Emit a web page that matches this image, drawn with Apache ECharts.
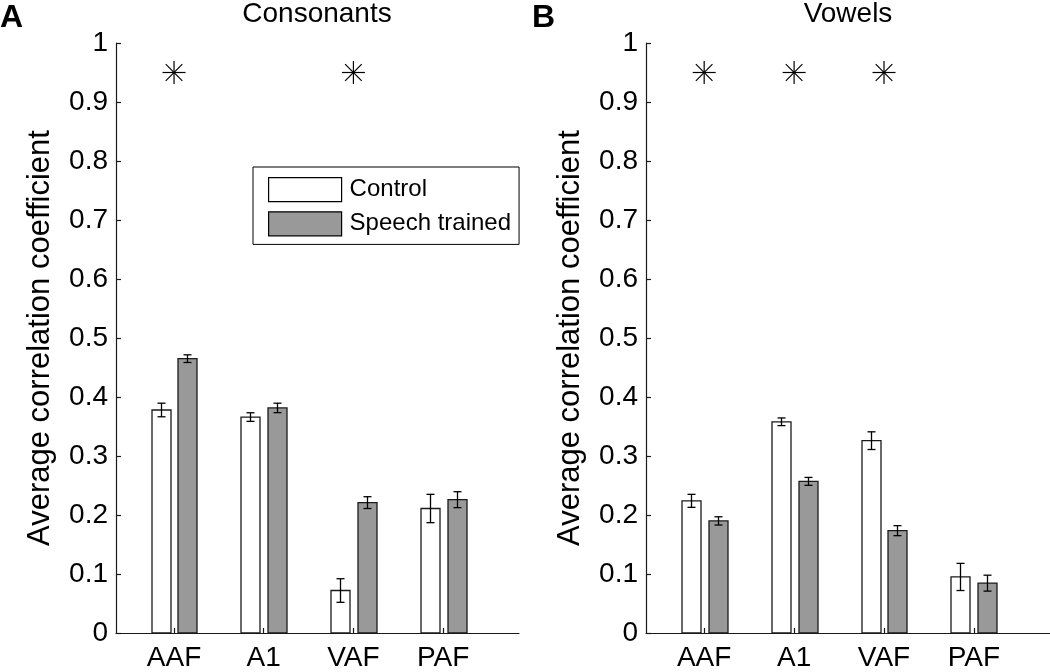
<!DOCTYPE html>
<html>
<head>
<meta charset="utf-8">
<script src="https://cdn.jsdelivr.net/npm/echarts@6/dist/echarts.min.js"></script>
<style>
  html, body { margin: 0; padding: 0; background: #fff; }
  #chart { width: 1050px; height: 672px; }
</style>
</head>
<body>
<div id="chart"></div>
<script>
// ---------- data ----------
const categories = ['AAF', 'A1', 'VAF', 'PAF'];
const yTicks = [0, 0.1, 0.2, 0.3, 0.4, 0.5, 0.6, 0.7, 0.8, 0.9, 1];

const consControl     = [0.378, 0.366, 0.072, 0.211];
const consControlErr  = [0.0115, 0.0073, 0.020, 0.024];
const consSpeech      = [0.465, 0.3815, 0.221, 0.226];
const consSpeechErr   = [0.0065, 0.008, 0.010, 0.0135];
const consSignificant = ['AAF', 'VAF'];

const vowControl      = [0.224, 0.358, 0.326, 0.095];
const vowControlErr   = [0.011, 0.0065, 0.015, 0.023];
const vowSpeech       = [0.190, 0.257, 0.1735, 0.0845];
const vowSpeechErr    = [0.007, 0.0067, 0.0085, 0.0135];
const vowSignificant  = ['AAF', 'A1', 'VAF'];

const sigLevel = 0.95;

// ---------- styling ----------
const FONT = 'Liberation Sans, Arial, Helvetica, sans-serif';
const AXIS_COLOR = '#1a1a1a';
const CONTROL_FILL = '#ffffff';
const SPEECH_FILL = '#999999';
const BAR_W = 19, CAP_W = 8, OFFSET = 0.15;

const chart = echarts.init(document.getElementById('chart'), null, { renderer: 'canvas' });

function barSeries(name, vals, errs, off, fill, gi) {
  return {
    type: 'custom',
    name: name,
    xAxisIndex: gi,
    yAxisIndex: gi,
    itemStyle: { color: fill, borderColor: '#000', borderWidth: 1.2 },
    data: vals.map((v, i) => [i + 1, v, errs[i]]),
    encode: { x: 0, y: 1 },
    renderItem: function (params, api) {
      const x = api.value(0) + off, v = api.value(1), e = api.value(2);
      const top = api.coord([x, v]);
      const base = api.coord([x, 0]);
      const lo = api.coord([x, v - e]);
      const hi = api.coord([x, v + e]);
      const cx = Math.round(top[0]) + 0.5;
      const ln = { stroke: '#000', lineWidth: 1.3 };
      return {
        type: 'group',
        children: [
          { type: 'rect', shape: { x: cx - BAR_W / 2, y: top[1], width: BAR_W, height: base[1] - top[1] },
            style: { fill: fill, stroke: '#1a1a1a', lineWidth: 1.3 } },
          { type: 'line', shape: { x1: cx, y1: lo[1], x2: cx, y2: hi[1] }, style: ln },
          { type: 'line', shape: { x1: cx - CAP_W / 2, y1: lo[1], x2: cx + CAP_W / 2, y2: lo[1] }, style: ln },
          { type: 'line', shape: { x1: cx - CAP_W / 2, y1: hi[1], x2: cx + CAP_W / 2, y2: hi[1] }, style: ln }
        ]
      };
    }
  };
}

function starSeries(sig, gi) {
  return {
    type: 'custom',
    name: 'sig' + gi,
    xAxisIndex: gi,
    yAxisIndex: gi,
    silent: true,
    data: sig.map(c => [categories.indexOf(c) + 1, sigLevel]),
    encode: { x: 0, y: 1 },
    renderItem: function (params, api) {
      const p = api.coord([api.value(0), api.value(1)]);
      const r = 11.5, d = 8.3;
      const st = { stroke: '#000', lineWidth: 1.2 };
      return {
        type: 'group',
        children: [
          { type: 'line', shape: { x1: p[0] - r, y1: p[1], x2: p[0] + r, y2: p[1] }, style: st },
          { type: 'line', shape: { x1: p[0], y1: p[1] - r, x2: p[0], y2: p[1] + r }, style: st },
          { type: 'line', shape: { x1: p[0] - d, y1: p[1] - d, x2: p[0] + d, y2: p[1] + d }, style: st },
          { type: 'line', shape: { x1: p[0] - d, y1: p[1] + d, x2: p[0] + d, y2: p[1] - d }, style: st }
        ]
      };
    }
  };
}

function xAxisDef(gi) {
  return {
    type: 'value',
    gridIndex: gi,
    min: 0.353,
    max: 4.846,
    splitLine: { show: false },
    axisLine: { show: true, onZero: false, lineStyle: { color: AXIS_COLOR, width: 1.2 } },
    axisTick: { show: true, inside: true, length: 5, customValues: [1, 2, 3, 4],
                lineStyle: { color: AXIS_COLOR, width: 1.2 } },
    axisLabel: { show: true, customValues: [1, 2, 3, 4], margin: 11,
                 formatter: v => categories[Math.round(v) - 1],
                 fontFamily: FONT, fontSize: 28, color: '#000' }
  };
}

function yAxisDef(gi) {
  return {
    type: 'value',
    gridIndex: gi,
    min: 0,
    max: 1,
    interval: 0.1,
    name: 'Average correlation coefficient',
    nameLocation: 'middle',
    nameGap: 60,
    nameTextStyle: { fontFamily: FONT, fontSize: 31, color: '#000' },
    splitLine: { show: false },
    axisLine: { show: true, lineStyle: { color: AXIS_COLOR, width: 1.2 } },
    axisTick: { show: true, inside: true, length: 5, lineStyle: { color: AXIS_COLOR, width: 1.2 } },
    axisLabel: { margin: 8, fontFamily: FONT, fontSize: 28, color: '#000',
                 formatter: v => String(+v.toFixed(1)) }
  };
}

const option = {
  backgroundColor: '#fff',
  animation: false,
  title: [
    { text: 'Consonants', left: 317, top: 0, textAlign: 'center', padding: 0,
      textStyle: { fontFamily: FONT, fontSize: 28, fontWeight: 'normal', color: '#000' } },
    { text: 'Vowels', left: 848, top: 0, textAlign: 'center', padding: 0,
      textStyle: { fontFamily: FONT, fontSize: 28, fontWeight: 'normal', color: '#000' } },
    { text: 'A', left: 0, top: 2, padding: 0,
      textStyle: { fontFamily: FONT, fontSize: 32, fontWeight: 'bold', color: '#000' } },
    { text: 'B', left: 532, top: 2, padding: 0,
      textStyle: { fontFamily: FONT, fontSize: 32, fontWeight: 'bold', color: '#000' } }
  ],
  legend: {
    orient: 'vertical',
    left: 253,
    top: 167,
    padding: [10, 8, 8, 15],
    itemWidth: 73,
    itemHeight: 24,
    itemGap: 9,
    borderColor: '#000',
    borderWidth: 1,
    backgroundColor: '#fff',
    selectedMode: false,
    textStyle: { fontFamily: FONT, fontSize: 24, color: '#000', lineHeight: 24, padding: [0, 0, 0, 3] },
    data: [
      { name: 'Control', icon: 'rect', itemStyle: { color: CONTROL_FILL, borderColor: '#000', borderWidth: 1.2 } },
      { name: 'Speech trained', icon: 'rect', itemStyle: { color: SPEECH_FILL, borderColor: '#000', borderWidth: 1.2 } }
    ]
  },
  grid: [
    { left: 116, top: 43, width: 403, height: 595, containLabel: false },
    { left: 646, top: 43, width: 404, height: 595, containLabel: false }
  ],
  xAxis: [xAxisDef(0), xAxisDef(1)],
  yAxis: [yAxisDef(0), yAxisDef(1)],
  series: [
    barSeries('Control', consControl, consControlErr, -OFFSET, CONTROL_FILL, 0),
    barSeries('Speech trained', consSpeech, consSpeechErr, OFFSET, SPEECH_FILL, 0),
    barSeries('Control', vowControl, vowControlErr, -OFFSET, CONTROL_FILL, 1),
    barSeries('Speech trained', vowSpeech, vowSpeechErr, OFFSET, SPEECH_FILL, 1),
    starSeries(consSignificant, 0),
    starSeries(vowSignificant, 1)
  ]
};

chart.setOption(option);
</script>
</body>
</html>
